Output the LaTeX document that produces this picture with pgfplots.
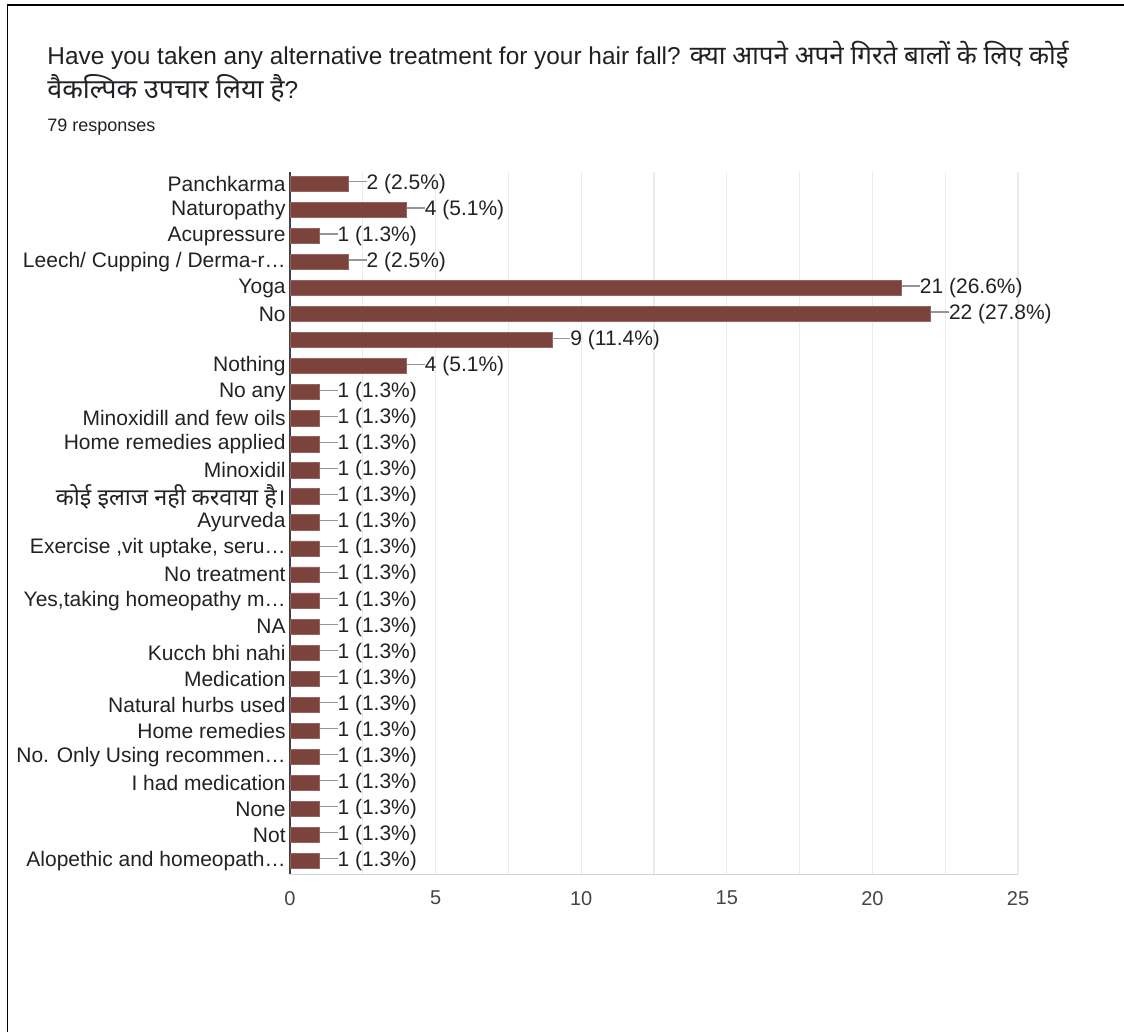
\documentclass[border=0pt]{standalone}
\usepackage{pgfplots}
\pgfplotsset{compat=1.18}
\usepackage{fontspec}
\setmainfont{Liberation Sans}
\newfontfamily\deva[Script=Devanagari]{Noto Sans}
\definecolor{barc}{RGB}{123,67,60}
\definecolor{bare}{RGB}{150,100,94}
\definecolor{txt}{RGB}{34,34,34}
\definecolor{tick}{RGB}{68,68,68}
\definecolor{titlec}{RGB}{32,33,36}
\definecolor{conn}{RGB}{150,150,150}
\definecolor{gridc}{RGB}{235,235,235}
\begin{document}
\begin{tikzpicture}
\path[use as bounding box] (0,0) rectangle (562pt,-516pt);
\draw[line width=0.7pt] (3.65pt,-516pt) -- (3.65pt,-2.5pt) -- (562pt,-2.5pt);
\node[anchor=base west, inner sep=0pt, text=titlec, font=\fontsize{12.2}{14}\selectfont] at (23.5pt,-32.5pt) {Have you taken any alternative treatment for your hair fall? {\deva\fontsize{13}{15}\selectfont क्या आपने अपने गिरते बालों के लिए कोई}};
\node[anchor=base west, inner sep=0pt, text=titlec, font=\fontsize{12.2}{14}\selectfont] at (23.5pt,-49.5pt) {{\deva\fontsize{13.4}{15}\selectfont वैकल्पिक उपचार लिया है}?};
\node[anchor=base west, inner sep=0pt, text=titlec, font=\fontsize{9}{10}\selectfont] at (23.5pt,-66pt) {79 responses};
\begin{axis}[
  at={(145pt,-437pt)}, anchor=south west,
  scale only axis, width=364pt, height=351pt,
  xmin=0, xmax=25, ymin=-0.5, ymax=26.46,
  xbar, bar width=7.6pt,
  /pgf/number format/assume math mode=true,
  axis x line*=bottom, axis y line*=left,
  x axis line style={draw=gridc!90!black, -},
  y axis line style={draw=black!75, line width=0.8pt, -},
  xtick={0,5,...,25}, minor xtick={2.5,7.5,...,22.5},
  xmajorgrids, xminorgrids,
  major grid style={draw=gridc, line width=0.6pt},
  minor grid style={draw=gridc, line width=0.6pt},
  major tick length=0pt, minor tick length=0pt,
  xticklabel style={text=tick, font=\fontsize{10}{11}\selectfont, yshift=-5pt},
  ytick={0,...,26},
  yticklabels={Alopethic and homeopath…, Not, None, I had medication, No. Only Using recommen…, Home remedies, Natural hurbs used, Medication, Kucch bhi nahi, NA, {Yes,taking homeopathy m…}, No treatment, {Exercise ,vit uptake, seru…}, Ayurveda, {\deva\fontsize{11.7}{12}\selectfont कोई इलाज नही करवाया है।}, Minoxidil, Home remedies applied, Minoxidill and few oils, No any, Nothing, {}, No, Yoga, Leech/ Cupping / Derma-r…, Acupressure, Naturopathy, Panchkarma},
  yticklabel style={text=txt, font=\fontsize{10.5}{11}\selectfont, inner xsep=2pt},
  point meta=explicit symbolic,
  nodes near coords={\textcolor{conn}{\rule[0.33em]{9pt}{0.6pt}}\pgfmathprintnumber{\pgfkeysvalueof{/data point/x}} (\pgfplotspointmeta\%)},
  every node near coord/.append style={anchor=west, inner sep=0pt, text=txt, font=\fontsize{10.5}{11}\selectfont},
]
\addplot[fill=barc, draw=bare, line width=0.4pt] coordinates {
(2,26) [2.5]
(4,25) [5.1]
(1,24) [1.3]
(2,23) [2.5]
(21,22) [26.6]
(22,21) [27.8]
(9,20) [11.4]
(4,19) [5.1]
(1,18) [1.3]
(1,17) [1.3]
(1,16) [1.3]
(1,15) [1.3]
(1,14) [1.3]
(1,13) [1.3]
(1,12) [1.3]
(1,11) [1.3]
(1,10) [1.3]
(1,9) [1.3]
(1,8) [1.3]
(1,7) [1.3]
(1,6) [1.3]
(1,5) [1.3]
(1,4) [1.3]
(1,3) [1.3]
(1,2) [1.3]
(1,1) [1.3]
(1,0) [1.3]
};
\end{axis}
\end{tikzpicture}
\end{document}
